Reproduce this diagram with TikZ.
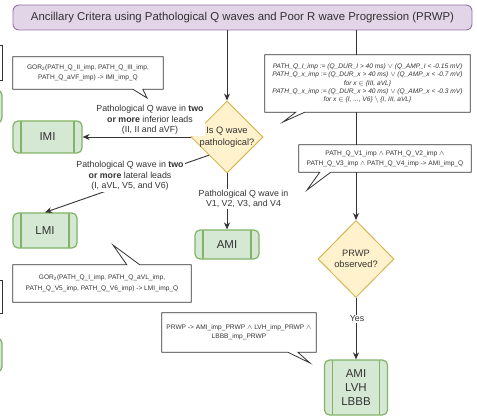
\documentclass[tikz,border=0pt]{standalone}
\usepackage{fontspec}
\setmainfont{Liberation Sans}
\usepackage{tikz}
\usetikzlibrary{arrows.meta, calc, shapes.geometric}

\definecolor{procfill}{HTML}{D5E8D4}
\definecolor{procline}{HTML}{82B366}
\definecolor{decfill}{HTML}{FFF2CC}
\definecolor{decline}{HTML}{D6B656}
\definecolor{ttlfill}{HTML}{E1D5E7}
\definecolor{ttlline}{HTML}{9673A6}
\definecolor{ink}{HTML}{333333}

\tikzset{
  ttl/.style={draw=ttlline, fill=ttlfill, rounded corners=6pt, line width=0.9pt,
    minimum width=459pt, minimum height=25pt, text=ink, font=\fontsize{11.4}{13}\selectfont},
  proc/.style={draw=procline, fill=procfill, rounded corners=5pt, line width=1.2pt,
    inner sep=0pt, align=center, text=ink, font=\fontsize{11.5}{14}\selectfont,
    path picture={
      \draw[procline, line width=1.2pt]
        ([xshift=8pt]path picture bounding box.north west) -- ([xshift=8pt]path picture bounding box.south west)
        ([xshift=-8pt]path picture bounding box.north east) -- ([xshift=-8pt]path picture bounding box.south east);
    }},
  dec/.style={diamond, draw=decline, fill=decfill, line width=1pt, inner sep=-12pt,
    align=center, text=ink, font=\fontsize{9.3}{11.5}\selectfont},
  note/.style={align=center, inner sep=0pt, text=ink, font=\fontsize{6.6}{10.5}\selectfont},
  box/.style={draw=ink, line width=0.8pt, line join=miter},
  lbl/.style={fill=white, align=center, inner sep=1pt, text=ink, font=\fontsize{8.8}{10.5}\selectfont},
  flow/.style={draw=ink, line width=0.9pt},
  arr/.style={flow, -{Stealth[length=7pt, width=6pt]}},
}

\begin{document}
\begin{tikzpicture}[x=1pt, y=-1pt]
\useasboundingbox (0,0) rectangle (477,417);

% shapes cut off at the left edge
\draw[ink, line width=0.9pt] (-20,45) rectangle (2,80);
\draw[procline, fill=procfill, line width=1.2pt, rounded corners=5pt] (-20,90) rectangle (2,123);
\draw[ink, line width=0.9pt] (-20,280) rectangle (2,313);
\draw[procline, fill=procfill, line width=1.2pt, rounded corners=5pt] (-20,338) rectangle (2,372);

\node[ttl] (ttl) at (242.5,17.5) {Ancillary Critera using Pathological Q waves and Poor R wave Progression (PRWP)};

% decisions
\node[dec, minimum width=72pt, minimum height=72pt] (q) at (227,137) {Is Q wave\\pathological?};
\node[dec, minimum width=76pt, minimum height=77pt] (prwp) at (356,259) {PRWP\\observed?};

% outcomes
\node[proc, minimum width=69pt, minimum height=32pt] (imi) at (47.5,137) {IMI};
\node[proc, minimum width=64pt, minimum height=35pt] (lmi) at (45,230.5) {LMI};
\node[proc, minimum width=64pt, minimum height=29pt] (ami) at (227,244.5) {AMI};
\node[proc, minimum width=63pt, minimum height=55pt] (fin) at (356,387.5) {AMI\\LVH\\LBBB};

% callouts with the rules
\node[note, minimum width=150pt, minimum height=32pt] (gi) at (88,73)
  {GOR\textsubscript{2}(PATH\_Q\_II\_imp, PATH\_Q\_III\_imp,\\PATH\_Q\_aVF\_imp) -> IMI\_imp\_Q};
\coordinate (gitip) at (147,98);
\draw[box] (gi.south west) |- (gi.north east) |- ($(gi.south west)+(130,0)$) -- (gitip)
  -- ($(gi.south west)+(120,0)$) -- cycle;

\node[note, minimum width=205pt, minimum height=57pt, font=\fontsize{6.6}{8.3}\selectfont\itshape] (qdef) at (367.5,83.5)
  {PATH\_Q\_I\_imp := (Q\_DUR\_I > 40 ms) $\lor$ (Q\_AMP\_I < -0.15 mV)\\
   PATH\_Q\_x\_imp := (Q\_DUR\_x > 40 ms) $\lor$ (Q\_AMP\_x < -0.7 mV)\\
   for x $\in$ \{III, aVL\}\\
   PATH\_Q\_x\_imp := (Q\_DUR\_x > 40 ms) $\lor$ (Q\_AMP\_x < -0.3 mV)\\
   for x $\in$ \{I, ..., V6\} $\setminus$ \{I, III, aVL\}};
\coordinate (qdeftip) at (283,122);
\draw[box] (qdef.south west) |- (qdef.north east) |- ($(qdef.south west)+(40,0)$) -- (qdeftip)
  -- ($(qdef.south west)+(31,0)$) -- cycle;

\node[note, minimum width=172pt, minimum height=27pt, font=\fontsize{6.6}{10}\selectfont] (qv) at (385,158.5)
  {PATH\_Q\_V1\_imp $\land$ PATH\_Q\_V2\_imp $\land$\\PATH\_Q\_V3\_imp $\land$ PATH\_Q\_V4\_imp -> AMI\_imp\_Q};
\coordinate (qvtip) at (307,190);
\draw[box] (qv.south west) |- (qv.north east) |- ($(qv.south west)+(32,0)$) -- (qvtip)
  -- ($(qv.south west)+(21,0)$) -- cycle;

\node[note, minimum width=178pt, minimum height=37pt] (gl) at (102,283.5)
  {GOR\textsubscript{2}(PATH\_Q\_I\_imp, PATH\_Q\_aVL\_imp,\\PATH\_Q\_V5\_imp, PATH\_Q\_V6\_imp) -> LMI\_imp\_Q};
\coordinate (gltip) at (113,245);
\draw[box] (gl.north west) -- ($(gl.north west)+(114,0)$) -- (gltip) -- ($(gl.north west)+(127,0)$)
  -| (gl.south east) -| (gl.north west) -- cycle;

\node[note, minimum width=154pt, minimum height=39pt, font=\fontsize{6.6}{9.5}\selectfont] (gp) at (239,332.5)
  {PRWP -> AMI\_imp\_PRWP $\land$ LVH\_imp\_PRWP $\land$\\LBBB\_imp\_PRWP};
\coordinate (gptip) at (310,363);
\draw[box] (gp.south west) |- (gp.north east) |- ($(gp.south west)+(136,0)$) -- (gptip)
  -- ($(gp.south west)+(126,0)$) -- cycle;

% connectors
\draw[arr] (ttl.south -| q.north) -- (q.north);
\draw[flow] (ttl.south -| prwp.north) -- (qdef.north -| prwp.north);
\draw[flow] (qdef.south -| prwp.north) -- (qv.north -| prwp.north);
\draw[arr] (qv.south -| prwp.north) -- (prwp.north);
\draw[arr] (prwp.south) -- (fin.north);
\draw[arr] (q.west) -- (imi.east);
\draw[arr] (q.south west) -- (lmi.north);
\draw[arr] (q.south) -- (ami.north);

% edge labels
\node[lbl] (lq1) at (150,120) {Pathological Q wave in \textbf{two}\\\textbf{or more} inferior leads\\(II, II and aVF)};
\node[lbl] (lq2) at (130,176) {Pathological Q wave in \textbf{two}\\\textbf{or more} lateral leads\\(I, aVL, V5, and V6)};
\node[lbl] (lq3) at (243.5,199) {Pathological Q wave in\\V1, V2, V3, and V4};
\node[lbl] (yes) at (357,319) {Yes};
\end{tikzpicture}
\end{document}
